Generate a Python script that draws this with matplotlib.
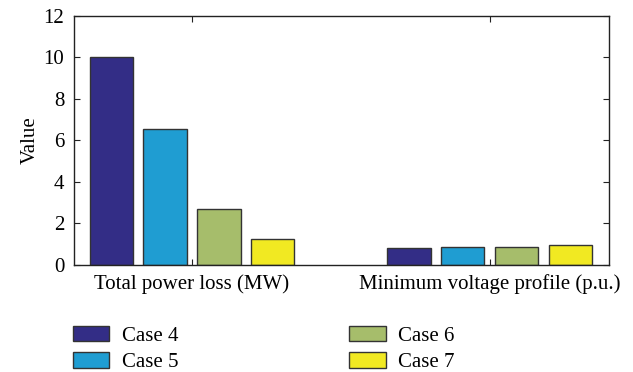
import numpy as np
import matplotlib.pyplot as plt

plt.rcParams['font.family'] = ['Liberation Serif', 'DejaVu Serif']

groups = ['Total power loss (MW)', 'Minimum voltage profile (p.u.)']
cases = ['Case 4', 'Case 5', 'Case 6', 'Case 7']
case4 = [10.03, 0.81]
case5 = [6.55, 0.87]
case6 = [2.70, 0.85]
case7 = [1.24, 0.94]
colors = ['#332d86', '#1f9dd2', '#a6bd6b', '#f1e922']

series = [case4, case5, case6, case7]

fig = plt.figure(figsize=(6.33, 3.72), dpi=100)
ax = fig.add_axes([0.117, 0.288, 0.845, 0.669])

x = np.arange(1, len(groups) + 1)
width = 0.145
step = 0.181
for i, (vals, lab, c) in enumerate(zip(series, cases, colors)):
    off = (i - 1.5) * step
    ax.bar(x + off, vals, width, color=c, edgecolor='#333333', linewidth=1.0, label=lab)

ax.set_xlim(0.604, 2.4)
ax.set_ylim(0, 12)
ax.set_yticks(range(0, 13, 2))
ax.set_xticks(x)
ax.set_xticklabels(groups)
ax.set_ylabel('Value', fontsize=15, labelpad=3)
ax.tick_params(direction='in', top=True, right=True, length=4, width=0.8,
               labelsize=15, color='#222222')
ax.tick_params(axis='y', pad=7)
ax.tick_params(axis='x', pad=7)
for s in ax.spines.values():
    s.set_linewidth(1.0)
    s.set_color('#222222')

fig.legend(loc='upper left', bbox_to_anchor=(0.115, 0.125), ncol=2, frameon=False,
           fontsize=15, handlelength=1.75, handleheight=0.8, handletextpad=0.6,
           columnspacing=8.2, labelspacing=0.3, borderaxespad=0, borderpad=0)

fig.savefig('out.png', dpi=100)
